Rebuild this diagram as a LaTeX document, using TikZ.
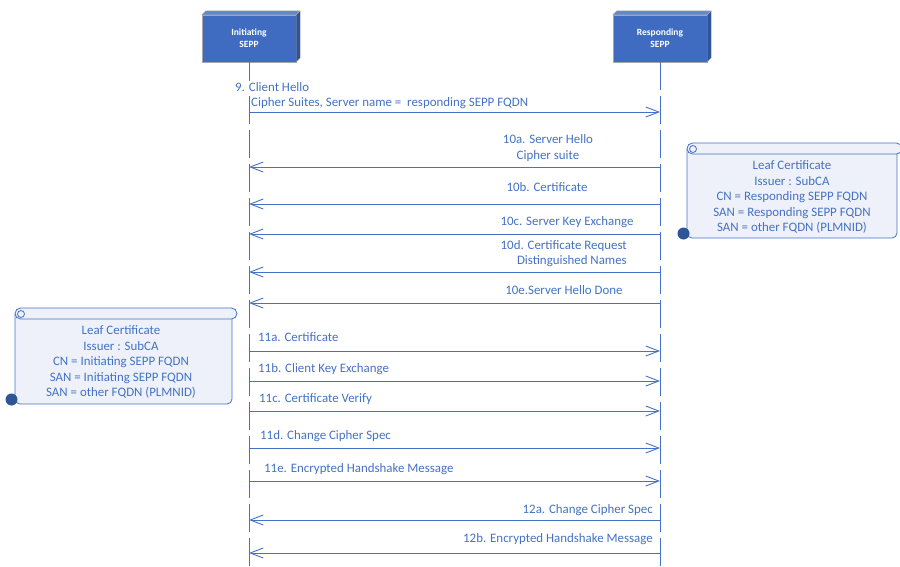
\documentclass[tikz,border=0pt]{standalone}
\usepackage{fontspec}
\setmainfont{Carlito}
\usepackage{tikz}
\usetikzlibrary{arrows.meta}
\definecolor{azul}{RGB}{68,114,196}
\definecolor{azulosc}{RGB}{47,85,151}
\definecolor{azulcara}{RGB}{63,108,192}
\definecolor{azultapa}{RGB}{98,136,208}
\definecolor{gris}{RGB}{166,166,166}
\definecolor{papel}{RGB}{238,241,250}

\begin{document}
\begin{tikzpicture}[x=1pt, y=-1pt,
    font=\fontsize{12.9}{15.5}\selectfont, >={Straight Barb[length=13pt,width=10pt]},
    caja/.style={draw=gris, fill=azulcara, minimum width=94, minimum height=47,
                 align=center, text=white, font=\fontsize{9.5}{12}\selectfont\bfseries},
    vida/.style={azul, line width=0.9pt, dash pattern=on 28pt off 6pt},
    flecha/.style={->, azul, line width=0.9pt},
    etiqueta/.style={text=azul, fill=white, inner sep=1pt, align=center},
    nota/.style={draw=azul, fill=papel, line width=0.8pt},
    notatexto/.style={text=azul, align=center}]
  \useasboundingbox (0,0) rectangle (900,566);
  \node[caja] (ini) at (249,38.5) {Initiating\\SEPP};
  \node[caja] (res) at (660,38.5) {Responding\\SEPP};
  \foreach \n in {ini, res} {
    \filldraw[fill=azultapa, draw=gris] (\n.north west) -- ++(4,-4) -- ++(94,0) -- (\n.north east) -- cycle;
    \filldraw[fill=azulosc, draw=gris] (\n.north east) -- ++(4,-4) -- ++(0,47) -- (\n.south east) -- cycle;
  }
  \coordinate (finini) at (249,566);
  \coordinate (finres) at (660,566);
  \draw[vida] (ini.south) -- (finini);
  \draw[vida] (res.south) -- (finres);
  \foreach \n/\y in {9/112, 10a/167, 10b/204, 10c/234, 10d/272, 10e/303, 11a/351,
                     11b/381, 11c/411, 11d/448, 11e/481, 12a/520, 12b/553} {
    \coordinate (i\n) at (249,\y);
    \coordinate (r\n) at (660,\y);
  }
  \node[etiqueta, anchor=west] (m9a) at (234,87) {9. Client Hello};
  \node[etiqueta, anchor=west] (m9b) at (250,103) {Cipher Suites, Server name = \ responding SEPP FQDN};
  \node[etiqueta] (m10a) at (548,148) {10a. Server Hello\\Cipher suite};
  \node[etiqueta] (m10b) at (547,187) {10b. Certificate};
  \node[etiqueta] (m10c) at (567,222) {10c. Server Key Exchange};
  \node[etiqueta, anchor=east, align=right] (m10d) at (628,253.5) {10d. Certificate Request\\Distinguished Names};
  \node[etiqueta] (m10e) at (564,290) {10e.Server Hello Done};
  \node[etiqueta, anchor=west] (m11a) at (257,337) {11a. Certificate};
  \node[etiqueta, anchor=west] (m11b) at (257,369) {11b. Client Key Exchange};
  \node[etiqueta, anchor=west] (m11c) at (258,399) {11c. Certificate Verify};
  \node[etiqueta, anchor=west] (m11d) at (259,436) {11d. Change Cipher Spec};
  \node[etiqueta, anchor=west] (m11e) at (263,469) {11e. Encrypted Handshake Message};
  \node[etiqueta, anchor=east] (m12a) at (654,510) {12a. Change Cipher Spec};
  \node[etiqueta, anchor=east] (m12b) at (654,539) {12b. Encrypted Handshake Message};
  \foreach \n in {9, 11a, 11b, 11c, 11d, 11e} \draw[flecha] (i\n) -- (r\n);
  \foreach \n in {10a, 10b, 10c, 10d, 10e, 12a, 12b} \draw[flecha] (r\n) -- (i\n);
  \foreach \xa/\ya/\xb/\yb in {15/308/232/404, 687/143/897/238} {
    \filldraw[nota, rounded corners=5] (\xa,\ya+6) -- (\xa,\yb) -- (\xb,\yb) -- (\xb,\ya+6);
    \filldraw[nota, rounded corners=5.5] (\xa,\ya) rectangle (\xb+5,\ya+11);
    \draw[azul, line width=0.8pt] (\xa+6,\ya+6) circle[radius=3.5];
    \fill[azulosc] (\xa-3.5,\yb-4.5) circle[radius=6];
  }
  \node[notatexto] (notaini) at (121,362) {Leaf Certificate\\Issuer : SubCA\\CN = Initiating SEPP FQDN\\SAN = Initiating SEPP FQDN\\SAN = other FQDN (PLMNID)};
  \node[notatexto] (notares) at (792,197) {Leaf Certificate\\Issuer : SubCA\\CN = Responding SEPP FQDN\\SAN = Responding SEPP FQDN\\SAN = other FQDN (PLMNID)};
\end{tikzpicture}
\end{document}
